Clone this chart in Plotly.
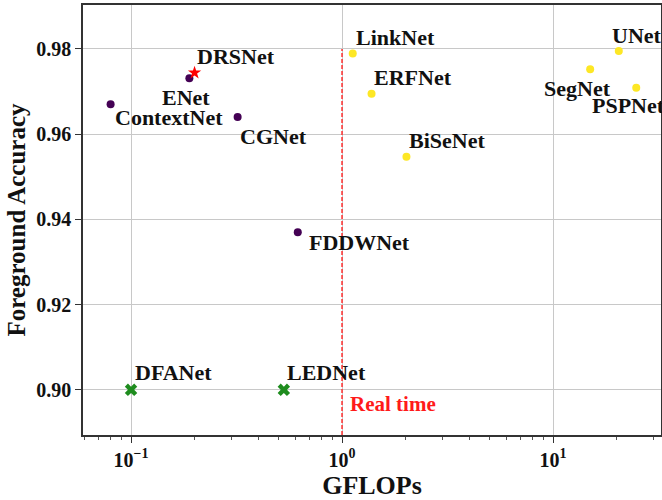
import math
import plotly.graph_objects as go

# ---- data ----
purple_names = ["ENet", "ContextNet", "CGNet", "FDDWNet"]
purple_gflops = [0.189, 0.080, 0.32, 0.617]
purple_acc = [0.9731, 0.9670, 0.9640, 0.9370]

yellow_names = ["LinkNet", "ERFNet", "BiSeNet", "UNet", "SegNet", "PSPNet"]
yellow_gflops = [1.124, 1.38, 2.02, 20.5, 15.0, 24.8]
yellow_acc = [0.9789, 0.9695, 0.9547, 0.9795, 0.9752, 0.9709]

green_names = ["DFANet", "LEDNet"]
green_gflops = [0.10, 0.53]
green_acc = [0.900, 0.900]

ours_names = ["DRSNet"]
ours_gflops = [0.20]
ours_acc = [0.9744]

realtime_gflops = 1.0
realtime_top_acc = 0.98

x_tickvals = [0.1, 1, 10]
x_ticktext = ["10<sup>\u22121</sup>", "10<sup>0</sup>", "10<sup>1</sup>"]
x_minor_ticks = [m * d for d in (0.01, 0.1, 1, 10) for m in range(2, 10)]
y_tickvals = [0.90, 0.92, 0.94, 0.96, 0.98]

# label placement styles: (xanchor, xshift, yshift)
label_style = {
    "DRSNet": ("left", 0, 16),
    "ENet": ("center", -3, -19),
    "ContextNet": ("left", 2, -13),
    "CGNet": ("left", 0, -19),
    "FDDWNet": ("left", 9, -10),
    "LinkNet": ("left", 1, 16),
    "ERFNet": ("left", 0, 16),
    "BiSeNet": ("left", 1, 16),
    "UNet": ("left", -9, 16),
    "SegNet": ("right", 23, -19),
    "PSPNet": ("left", -46, -18),
    "DFANet": ("left", 2, 17),
    "LEDNet": ("left", 1, 17),
}

FONT = "Liberation Serif"

fig = go.Figure()
fig.add_trace(go.Scatter(x=purple_gflops, y=purple_acc, mode="markers",
                         marker=dict(color="#440154", size=8), hoverinfo="skip"))
fig.add_trace(go.Scatter(x=yellow_gflops, y=yellow_acc, mode="markers",
                         marker=dict(color="#fde725", size=8), hoverinfo="skip"))
fig.add_trace(go.Scatter(x=green_gflops, y=green_acc, mode="markers",
                         marker=dict(color="#1e8c1e", size=11, symbol="x"), hoverinfo="skip"))
fig.add_trace(go.Scatter(x=ours_gflops, y=ours_acc, mode="markers",
                         marker=dict(color="#ff0000", size=10, symbol="star"), hoverinfo="skip"))

y_min, y_max = 0.8894, 0.9903

fig.add_shape(type="line", xref="x", yref="y", x0=realtime_gflops, x1=realtime_gflops,
              y0=y_min, y1=realtime_top_acc,
              line=dict(color="#ff3030", width=1.5, dash="4px,2px"))

for names, xs, ys in [(purple_names, purple_gflops, purple_acc),
                      (yellow_names, yellow_gflops, yellow_acc),
                      (green_names, green_gflops, green_acc),
                      (ours_names, ours_gflops, ours_acc)]:
    for n, xv, yv in zip(names, xs, ys):
        xa, xs_, ys_ = label_style[n]
        fig.add_annotation(x=math.log10(xv), y=yv, text=n, showarrow=False,
                           xanchor=xa, yanchor="middle", xshift=xs_, yshift=ys_,
                           font=dict(family=FONT, size=22, color="#111111", weight="bold"))

fig.add_annotation(x=math.log10(realtime_gflops), y=0.90, text="Real time", showarrow=False,
                   xanchor="left", yanchor="middle", xshift=6, yshift=-14,
                   font=dict(family=FONT, size=21, color="#ff1a1a", weight="bold"))

fig.update_layout(
    width=662, height=500,
    margin=dict(l=83, r=1, t=5, b=65, autoexpand=False),
    paper_bgcolor="white", plot_bgcolor="white",
    showlegend=False,
    font=dict(family=FONT, color="#111111", weight="bold"),
)
fig.update_xaxes(
    type="log", range=[-1.2277, 1.5118], automargin=False,
    tickvals=x_tickvals, ticktext=x_ticktext,
    tickfont=dict(family=FONT, size=20, weight="bold"),
    ticks="outside", ticklen=6, tickcolor="#333",
    minor=dict(tickvals=x_minor_ticks, ticks="outside", ticklen=3, tickcolor="#555", showgrid=False),
    showgrid=True, gridcolor="#c8c8c8", gridwidth=1,
    showline=True, linecolor="#333", linewidth=1.5, mirror=True,
    zeroline=False,
    title=dict(text="GFLOPs", font=dict(family=FONT, size=26, weight="bold"), standoff=6),
)
fig.update_yaxes(
    range=[y_min, y_max], automargin=False,
    tickvals=y_tickvals, tickformat=".2f",
    tickfont=dict(family=FONT, size=20, weight="bold"),
    ticks="outside", ticklen=6, tickcolor="#333",
    showgrid=True, gridcolor="#c8c8c8", gridwidth=1,
    showline=True, linecolor="#333", linewidth=1.5, mirror=True,
    zeroline=False,
    title=dict(text="Foreground Accuracy", font=dict(family=FONT, size=25, weight="bold"), standoff=4),
)

fig.write_html("out.html", config={"displayModeBar": False},
               post_script="document.body.style.margin='0';")
